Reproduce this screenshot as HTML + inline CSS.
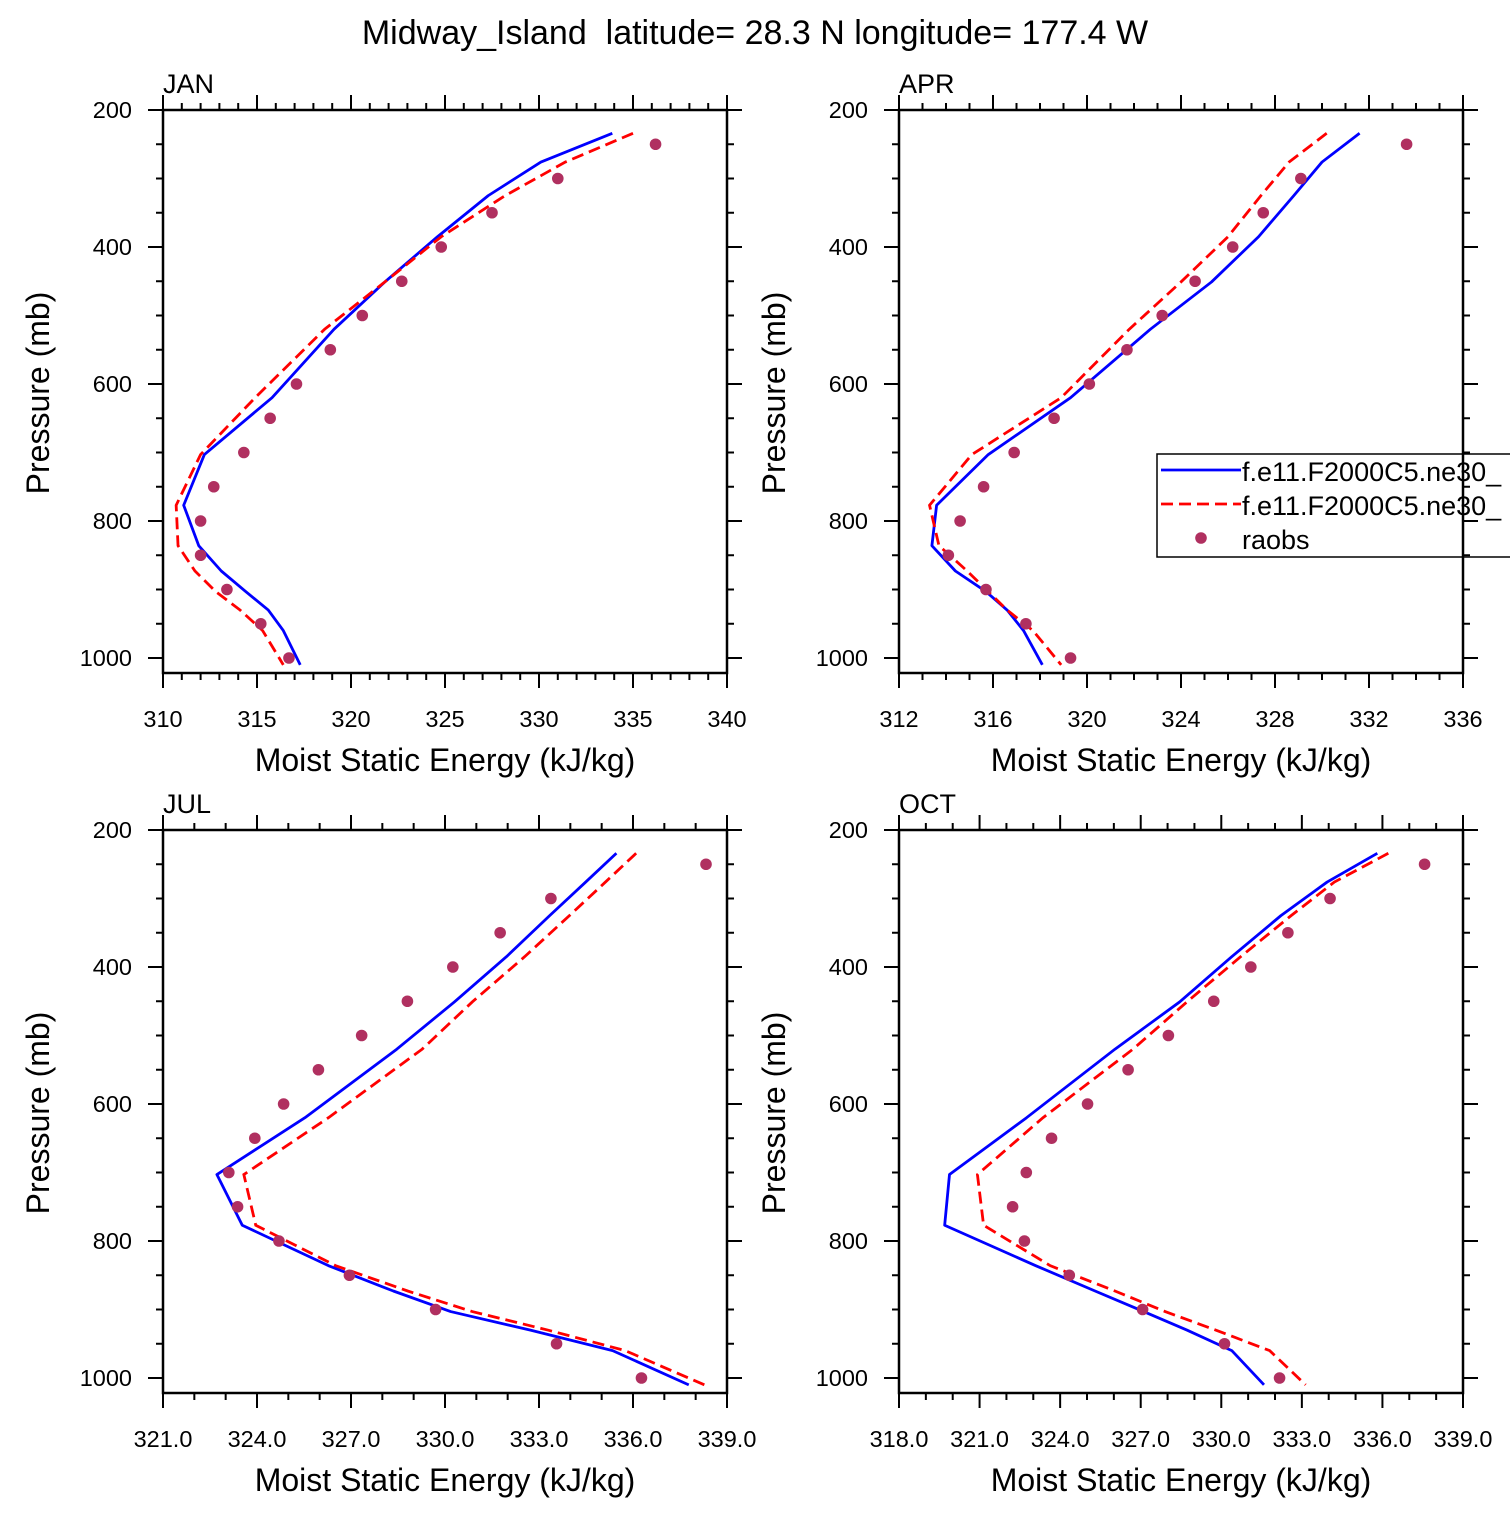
<!DOCTYPE html>
<html><head><meta charset="utf-8"><style>
body{margin:0;background:#fff;}
svg text{font-family:"Liberation Sans",Arial,sans-serif;fill:#000;}
</style></head><body>
<svg id="fig" width="1510" height="1510" viewBox="0 0 1510 1510" xmlns="http://www.w3.org/2000/svg">
<text x="755" y="44" font-size="34" text-anchor="middle" xml:space="preserve">Midway_Island  latitude= 28.3 N longitude= 177.4 W</text>
</svg>
<script>
const levels = [234,276,325,385,451,520,620,703,777,836,873,903,930,960,1010];
const obsLevels = [250,300,350,400,450,500,550,600,650,700,750,800,850,900,950,1000];
const yTicks = [200,400,600,800,1000];

const janBlue = [333.9,330.1,327.3,324.6,321.8,319.1,315.8,312.2,311.1,311.9,313.1,314.4,315.6,316.4,317.3];
const janRed  = [335.0,331.4,328.2,324.8,321.8,318.6,314.9,312.0,310.7,310.8,311.7,312.8,314.1,315.3,316.4];
const janObs  = [336.2,331.0,327.5,324.8,322.7,320.6,318.9,317.1,315.7,314.3,312.7,312.0,312.0,313.4,315.2,316.7];
const janTicks = ["310","315","320","325","330","335","340"];

const aprBlue = [331.6,330.0,328.8,327.3,325.3,322.7,319.3,315.8,313.6,313.4,314.4,315.7,316.6,317.3,318.1];
const aprRed  = [330.2,328.6,327.4,326.0,324.0,321.8,318.9,315.1,313.3,313.7,314.9,315.8,316.6,317.7,318.9];
const aprObs  = [333.6,329.1,327.5,326.2,324.6,323.2,321.7,320.1,318.6,316.9,315.6,314.6,314.1,315.7,317.4,319.3];
const aprTicks = ["312","316","320","324","328","332","336"];

const julBlue = [335.47,334.49,333.34,331.96,330.30,328.46,325.53,322.72,323.53,326.28,328.35,330.18,332.71,335.35,337.78];
const julRed  = [336.10,335.12,333.97,332.54,330.87,329.27,326.28,323.58,323.96,326.51,328.81,330.87,333.28,335.75,338.28];
const julObs  = [338.33,333.38,331.76,330.25,328.80,327.34,325.96,324.85,323.93,323.10,323.38,324.70,326.95,329.70,333.56,336.27];
const julTicks = ["321.0","324.0","327.0","330.0","333.0","336.0","339.0"];

const octBlue = [335.81,333.94,332.22,330.39,328.45,326.04,322.75,319.88,319.70,323.09,325.30,327.11,328.72,330.39,331.59];
const octRed  = [336.22,334.21,332.60,330.72,328.72,326.71,323.36,320.92,321.15,323.63,326.04,327.91,329.79,331.80,333.14];
const octObs  = [337.57,334.05,332.48,331.10,329.72,328.03,326.53,325.02,323.68,322.74,322.23,322.67,324.34,327.07,330.12,332.17];
const octTicks = ["318.0","321.0","324.0","327.0","330.0","333.0","336.0","339.0"];

const NS="http://www.w3.org/2000/svg";
const svg=document.getElementById('fig');
function mk(tag,attrs,parent){const e=document.createElementNS(NS,tag);for(const k in attrs)e.setAttribute(k,attrs[k]);(parent||svg).appendChild(e);return e;}

function panel(name,x0,y0,xmin,xmax,majStep,minStep,ticks,blue,red,obs,showLegend){
  const W=564,yTop=y0,yBot=y0+563;
  const g=mk('g',{});
  
  
  const xs=v=>x0+(v-xmin)/(xmax-xmin)*W;
  const ys=p=>yTop+(p-200)*(548/800);
  const fr=mk('rect',{x:x0,y:yTop,width:W,height:yBot-yTop,fill:'none',stroke:'#000','stroke-width':2.5},g);
  
  
  for(let p=200;p<=1000;p+=50){
    const maj=p%200===0, L=maj?15:7, y=ys(p);
    mk('line',{x1:x0-L,y1:y,x2:x0,y2:y,stroke:'#000','stroke-width':2},g);
    mk('line',{x1:x0+W,y1:y,x2:x0+W+L,y2:y,stroke:'#000','stroke-width':2},g);
  }
  yTicks.forEach(p=>{
    const t=mk('text',{x:x0-31,y:ys(p)+8,'font-size':23.5,'text-anchor':'end'},g);
    t.textContent=p;
    
    
  });
  const nMin=Math.round((xmax-xmin)/minStep);
  for(let i=0;i<=nMin;i++){
    const v=xmin+i*minStep, x=xs(v);
    const maj=Math.abs(((v-xmin)/majStep)-Math.round((v-xmin)/majStep))<1e-6, L=maj?15:7;
    mk('line',{x1:x,y1:yBot,x2:x,y2:yBot+L,stroke:'#000','stroke-width':2},g);
    mk('line',{x1:x,y1:yTop-L,x2:x,y2:yTop,stroke:'#000','stroke-width':2},g);
  }
  ticks.forEach(s=>{
    const t=mk('text',{x:xs(parseFloat(s)),y:yBot+54,'font-size':23.5,'text-anchor':'middle'},g);
    t.textContent=s;
    
    
  });
  const xt=mk('text',{x:x0+W/2,y:yBot+98,'font-size':32,'text-anchor':'middle'},g);
  xt.textContent='Moist Static Energy (kJ/kg)';
  
  
  const yt=mk('text',{x:0,y:0,'font-size':32,'text-anchor':'middle',transform:`translate(${x0-114},${yTop+283}) rotate(-90)`},g);
  yt.textContent='Pressure (mb)';
  
  
  const lab=mk('text',{x:x0,y:yTop-17,'font-size':27},g);
  lab.textContent=name.toUpperCase();
  
  
  const bl=mk('polyline',{points:blue.map((v,i)=>xs(v)+','+ys(levels[i])).join(' '),fill:'none',stroke:'#0000ff','stroke-width':2.8,'stroke-linejoin':'round'},g);
  
  
  const rl=mk('polyline',{points:red.map((v,i)=>xs(v)+','+ys(levels[i])).join(' '),fill:'none',stroke:'#ff0000','stroke-width':2.8,'stroke-dasharray':'12 6'},g);
  
  
  obs.forEach((v,i)=>{
    const c=mk('circle',{cx:xs(v),cy:ys(obsLevels[i]),r:5.8,fill:'#b03060'},g);
    
    
  });
  if(showLegend){
    const lg=mk('g',{},g);
    
    
    mk('rect',{x:1157,y:454,width:360,height:103,fill:'none',stroke:'#000','stroke-width':1.5},lg);
    mk('line',{x1:1161,y1:470,x2:1241,y2:470,stroke:'#0000ff','stroke-width':2.8},lg);
    mk('line',{x1:1161,y1:504,x2:1241,y2:504,stroke:'#ff0000','stroke-width':2.8,'stroke-dasharray':'12 6'},lg);
    mk('circle',{cx:1201,cy:538,r:5.8,fill:'#b03060'},lg);
    const names=['f.e11.F2000C5.ne30_','f.e11.F2000C5.ne30_','raobs'];
    names.forEach((s,i)=>{
      const t=mk('text',{x:1242,y:481+i*34,'font-size':27},lg);
      t.textContent=s;
      
      
    });
  }
}
panel('jan',163,110,310,340,5,1,janTicks,janBlue,janRed,janObs,false);
panel('apr',899,110,312,336,4,1,aprTicks,aprBlue,aprRed,aprObs,true);
panel('jul',163,830,321,339,3,1,julTicks,julBlue,julRed,julObs,false);
panel('oct',899,830,318,339,3,1,octTicks,octBlue,octRed,octObs,false);
</script>
</body></html>
